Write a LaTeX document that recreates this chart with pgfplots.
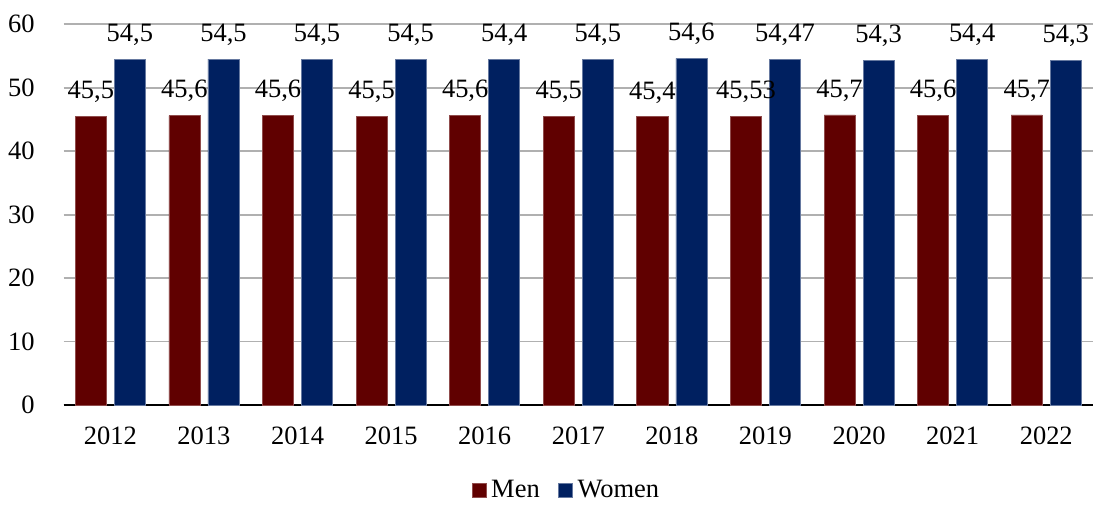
\documentclass[border={0pt 0pt 0pt 3pt}]{standalone}
\usepackage{pgfplots}
\pgfplotsset{compat=1.18}
\usepackage{fontspec}
\setmainfont{Liberation Serif}
\definecolor{menred}{HTML}{600000}
\definecolor{womenblue}{HTML}{002060}
\definecolor{gridgray}{HTML}{B0B0B0}

\begin{document}
\begin{tikzpicture}
\begin{axis}[
    scale only axis,
    width=15.03cm, height=5.56cm,
    ybar=0.117cm,
    bar width=0.453cm,
    ymin=0, ymax=60,
    ytick={0,10,...,60},
    xmin=-0.5, xmax=10.5,
    xtick=data,
    xticklabels={2012,2013,2014,2015,2016,2017,2018,2019,2020,2021,2022},
    axis x line*=bottom,
    axis y line*=left,
    y axis line style={draw=none},
    x axis line style={black, line width=0.8pt},
    ymajorgrids,
    grid style={gridgray, line width=0.8pt},
    major tick length=0pt,
    tick label style={font=\fontsize{11}{13}\selectfont},
    yticklabel style={xshift=-0.3cm},
    xticklabel style={yshift=-0.2cm},
    /pgf/number format/assume math mode=true,
    /pgf/number format/use comma,
    nodes near coords,
    nodes near coords style={font=\fontsize{11}{13}\selectfont, anchor=base, inner sep=0pt, yshift=0.26cm,
      /pgf/number format/precision=2},
    legend style={at={(0.49,-0.225)}, anchor=center, draw=none, legend columns=2,
      font=\fontsize{11}{13}\selectfont, inner sep=0pt,
      /tikz/every even column/.append style={column sep=0.2cm}},
    legend image code/.code={\fill[#1] (0.05cm,-0.1cm) rectangle (0.25cm,0.1cm);},
    clip=false,
]
\addplot[fill=menred, draw=menred!70!white, line width=0.3pt] coordinates {
(0,45.5) (1,45.6) (2,45.6) (3,45.5) (4,45.6) (5,45.5) (6,45.4) (7,45.53) (8,45.7) (9,45.6) (10,45.7)};
\addplot[fill=womenblue, draw=womenblue!60!white, line width=0.3pt] coordinates {
(0,54.5) (1,54.5) (2,54.5) (3,54.5) (4,54.4) (5,54.5) (6,54.6) (7,54.47) (8,54.3) (9,54.4) (10,54.3)};
\legend{Men,Women}
\end{axis}
\end{tikzpicture}
\end{document}
